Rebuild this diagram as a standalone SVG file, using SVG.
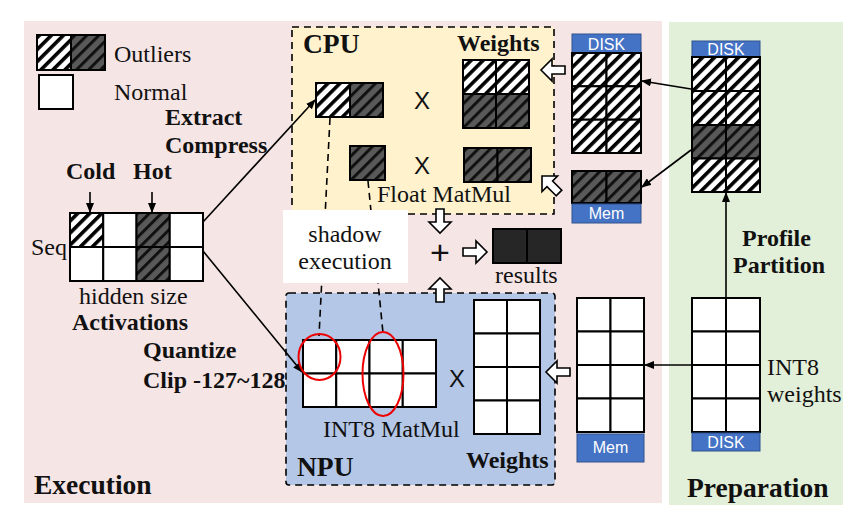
<svg xmlns="http://www.w3.org/2000/svg" width="858" height="521" viewBox="0 0 858 521">
<style>
.s{font-family:"Liberation Serif","Times New Roman",serif;font-size:24px;fill:#111}
.b{font-family:"Liberation Serif","Times New Roman",serif;font-size:24px;font-weight:bold;fill:#111}
.h{font-family:"Liberation Serif","Times New Roman",serif;font-size:27.5px;font-weight:bold;fill:#111}
.x{font-family:"Liberation Sans",Arial,sans-serif;font-size:24px;fill:#111;text-anchor:middle}
.lb{font-family:"Liberation Sans",Arial,sans-serif;font-size:16px;fill:#fff;text-anchor:middle}
.c{stroke:#000;stroke-width:2}
.hw{fill:url(#phw)}
.dk{fill:url(#pdk)}
.wt{fill:#fff}
.blue{fill:#4472c4;stroke:#2f528f;stroke-width:1}
.ln{stroke:#000;stroke-width:1.6;fill:none}
.dash{stroke:#000;stroke-width:1.6;fill:none;stroke-dasharray:7,5}
.ha{fill:#fff;stroke:#000;stroke-width:1.6;stroke-linejoin:miter}
</style>
<defs>
<pattern id="phw" width="8.5" height="8.5" patternUnits="userSpaceOnUse" patternTransform="rotate(45)">
<rect width="8.5" height="8.5" fill="#fff"/><rect width="3.6" height="8.5" fill="#000"/>
</pattern>
<pattern id="pdk" width="8.5" height="8.5" patternUnits="userSpaceOnUse" patternTransform="rotate(45)">
<rect width="8.5" height="8.5" fill="#595959"/><rect width="3" height="8.5" fill="#111"/>
</pattern>
<marker id="ah" markerWidth="10" markerHeight="8" refX="9" refY="4" orient="auto" markerUnits="userSpaceOnUse">
<path d="M0,0 L10,4 L0,8 Z" fill="#000"/>
</marker>
<path id="harrow" d="M-24,-4 H-11 V-11 L0,0 L-11,11 V4 H-24 Z"/>
</defs>

<!-- backgrounds -->
<rect x="24" y="21" width="638" height="482" fill="#f6e5e5"/>
<rect x="669" y="22" width="174" height="483" fill="#e2efd9"/>

<g id="cpu-box">
<rect x="292" y="27" width="262" height="187" fill="#fff2cc" stroke="#000" stroke-width="1.6" stroke-dasharray="7,5"/>
<text class="h" x="303" y="53">CPU</text>
<text class="b" x="457" y="51" font-size="23">Weights</text>
<text class="s" x="377" y="202">Float MatMul</text>
</g>

<g id="npu-box">
<rect x="286" y="293" width="269" height="192" rx="3" fill="#b4c7e7" stroke="#000" stroke-width="1.6" stroke-dasharray="7,5"/>
<text class="h" x="297" y="476">NPU</text>
<text class="b" x="466" y="468" font-size="23">Weights</text>
<text class="s" x="323" y="437">INT8 MatMul</text>
</g>

<g id="connectors">
<line class="dash" x1="330" y1="118" x2="319" y2="336"/>
<line class="dash" x1="368" y1="181" x2="383" y2="333"/>
<line class="ln" x1="203" y1="222" x2="315" y2="100" marker-end="url(#ah)"/>
<line class="ln" x1="203" y1="251" x2="302" y2="372" marker-end="url(#ah)"/>
<line class="ln" x1="90" y1="192" x2="90" y2="212" marker-end="url(#ah)"/>
<line class="ln" x1="152" y1="192" x2="152" y2="212" marker-end="url(#ah)"/>
<line class="ln" x1="691" y1="89" x2="642" y2="81" marker-end="url(#ah)"/>
<line class="ln" x1="691" y1="150" x2="642" y2="187" marker-end="url(#ah)"/>
<line class="ln" x1="726" y1="297" x2="726" y2="193" marker-end="url(#ah)"/>
<line class="ln" x1="692" y1="365" x2="645" y2="365" marker-end="url(#ah)"/>
<use href="#harrow" class="ha" transform="translate(541,70) rotate(180)"/>
<use href="#harrow" class="ha" transform="translate(542,176) rotate(225)"/>
<use href="#harrow" class="ha" transform="translate(440,233) rotate(90)"/>
<use href="#harrow" class="ha" transform="translate(440,278) rotate(-90)"/>
<use href="#harrow" class="ha" transform="translate(487,252)"/>
<use href="#harrow" class="ha" transform="translate(546,372) rotate(180)"/>
</g>

<g id="legend">
<rect class="c hw" x="37" y="35" width="34" height="35"/>
<rect class="c dk" x="71" y="35" width="34" height="35"/>
<rect class="c wt" x="39" y="75" width="34" height="34"/>
<text class="s" x="114" y="62">Outliers</text>
<text class="s" x="114" y="100">Normal</text>
</g>

<g id="labels-left">
<text class="b" x="165" y="125">Extract</text>
<text class="b" x="165" y="153">Compress</text>
<text class="b" x="66" y="179">Cold</text>
<text class="b" x="133" y="179">Hot</text>
<text class="b" x="143" y="358">Quantize</text>
<text class="b" x="143" y="388">Clip -127~128</text>
<text class="h" x="34" y="494">Execution</text>
</g>

<g id="activations">
<rect class="c hw" x="70" y="213" width="33.25" height="34"/>
<rect class="c wt" x="103.25" y="213" width="33.25" height="34"/>
<rect class="c dk" x="136.5" y="213" width="33.25" height="34"/>
<rect class="c wt" x="169.75" y="213" width="33.25" height="34"/>
<rect class="c wt" x="70" y="247" width="33.25" height="34"/>
<rect class="c wt" x="103.25" y="247" width="33.25" height="34"/>
<rect class="c dk" x="136.5" y="247" width="33.25" height="34"/>
<rect class="c wt" x="169.75" y="247" width="33.25" height="34"/>
<text class="s" x="31" y="255">Seq</text>
<text class="s" x="79" y="304">hidden size</text>
<text class="b" x="72" y="330">Activations</text>
</g>

<g id="cpu-activation">
<rect class="c hw" x="316" y="83" width="34" height="34"/>
<rect class="c dk" x="350" y="83" width="33" height="34"/>
<text class="x" x="422" y="109">X</text>
</g>

<g id="cpu-weights">
<rect class="c hw" x="463" y="60" width="33" height="34"/>
<rect class="c hw" x="496" y="60" width="33" height="34"/>
<rect class="c dk" x="463" y="94" width="33" height="34"/>
<rect class="c dk" x="496" y="94" width="33" height="34"/>
</g>

<g id="cpu-activation-hot">
<rect class="c dk" x="350" y="146" width="35" height="34"/>
<text class="x" x="422" y="174">X</text>
</g>

<g id="cpu-weights-hot">
<rect class="c dk" x="464" y="148" width="33.5" height="34"/>
<rect class="c dk" x="497.5" y="148" width="33.5" height="34"/>
</g>

<g id="shadow-execution">
<rect x="283" y="210" width="125" height="73" fill="#fff"/>
<text class="s" x="345" y="242" text-anchor="middle">shadow</text>
<text class="s" x="345" y="269" text-anchor="middle">execution</text>
</g>

<g id="sum">
<text x="440" y="264" font-family="Liberation Sans,Arial,sans-serif" font-size="34" text-anchor="middle" fill="#111">+</text>
</g>

<g id="results">
<rect class="c" x="493" y="229" width="34" height="34" fill="#262626"/>
<rect class="c" x="527" y="229" width="34" height="34" fill="#262626"/>
<text class="s" x="495" y="283">results</text>
</g>

<g id="npu-activation">
<rect class="c wt" x="303" y="340" width="33.25" height="33.5"/>
<rect class="c wt" x="336.25" y="340" width="33.25" height="33.5"/>
<rect class="c wt" x="369.5" y="340" width="33.25" height="33.5"/>
<rect class="c wt" x="402.75" y="340" width="33.25" height="33.5"/>
<rect class="c wt" x="303" y="373.5" width="33.25" height="33.5"/>
<rect class="c wt" x="336.25" y="373.5" width="33.25" height="33.5"/>
<rect class="c wt" x="369.5" y="373.5" width="33.25" height="33.5"/>
<rect class="c wt" x="402.75" y="373.5" width="33.25" height="33.5"/>
<ellipse cx="319.5" cy="357" rx="21" ry="23" fill="none" stroke="#e00" stroke-width="2"/>
<ellipse cx="383" cy="374" rx="20.5" ry="42" fill="none" stroke="#e00" stroke-width="2"/>
<text class="x" x="457" y="387">X</text>
</g>

<g id="npu-weights">
<rect class="c wt" x="474" y="300" width="33" height="33.5"/>
<rect class="c wt" x="507" y="300" width="33" height="33.5"/>
<rect class="c wt" x="474" y="333.5" width="33" height="33.5"/>
<rect class="c wt" x="507" y="333.5" width="33" height="33.5"/>
<rect class="c wt" x="474" y="367" width="33" height="33.5"/>
<rect class="c wt" x="507" y="367" width="33" height="33.5"/>
<rect class="c wt" x="474" y="400.5" width="33" height="33.5"/>
<rect class="c wt" x="507" y="400.5" width="33" height="33.5"/>
</g>

<g id="outlier-weights-disk">
<rect class="blue" x="572" y="34" width="69" height="19"/>
<text class="lb" x="606.5" y="49.5">DISK</text>
<rect class="c hw" x="572" y="53" width="34.5" height="33.3"/>
<rect class="c hw" x="606.5" y="53" width="34.5" height="33.3"/>
<rect class="c hw" x="572" y="86.3" width="34.5" height="33.4"/>
<rect class="c hw" x="606.5" y="86.3" width="34.5" height="33.4"/>
<rect class="c hw" x="572" y="119.7" width="34.5" height="33.3"/>
<rect class="c hw" x="606.5" y="119.7" width="34.5" height="33.3"/>
</g>

<g id="hot-weights-mem">
<rect class="c dk" x="572" y="171" width="34.5" height="32"/>
<rect class="c dk" x="606.5" y="171" width="34.5" height="32"/>
<rect class="blue" x="572" y="204" width="69" height="19"/>
<text class="lb" x="606.5" y="219" font-size="14.5">Mem</text>
</g>

<g id="int8-weights-mem">
<rect class="c wt" x="577" y="298" width="33.5" height="33.5"/>
<rect class="c wt" x="610.5" y="298" width="33.5" height="33.5"/>
<rect class="c wt" x="577" y="331.5" width="33.5" height="33.5"/>
<rect class="c wt" x="610.5" y="331.5" width="33.5" height="33.5"/>
<rect class="c wt" x="577" y="365" width="33.5" height="33.5"/>
<rect class="c wt" x="610.5" y="365" width="33.5" height="33.5"/>
<rect class="c wt" x="577" y="398.5" width="33.5" height="33.5"/>
<rect class="c wt" x="610.5" y="398.5" width="33.5" height="33.5"/>
<rect class="blue" x="577" y="434" width="67" height="28"/>
<text class="lb" x="610.5" y="453" font-size="14.5">Mem</text>
</g>

<g id="profiled-weights-disk">
<rect class="blue" x="692" y="41" width="68" height="16"/>
<text class="lb" x="726" y="55">DISK</text>
<rect class="c hw" x="692" y="57" width="34" height="34"/>
<rect class="c hw" x="726" y="57" width="34" height="34"/>
<rect class="c hw" x="692" y="91" width="34" height="34"/>
<rect class="c hw" x="726" y="91" width="34" height="34"/>
<rect class="c dk" x="692" y="125" width="34" height="33.5"/>
<rect class="c dk" x="726" y="125" width="34" height="33.5"/>
<rect class="c hw" x="692" y="158.5" width="34" height="33.5"/>
<rect class="c hw" x="726" y="158.5" width="34" height="33.5"/>
</g>

<g id="int8-weights-disk">
<rect class="c wt" x="692" y="298" width="34" height="33.5"/>
<rect class="c wt" x="726" y="298" width="34" height="33.5"/>
<rect class="c wt" x="692" y="331.5" width="34" height="33.5"/>
<rect class="c wt" x="726" y="331.5" width="34" height="33.5"/>
<rect class="c wt" x="692" y="365" width="34" height="33.5"/>
<rect class="c wt" x="726" y="365" width="34" height="33.5"/>
<rect class="c wt" x="692" y="398.5" width="34" height="33.5"/>
<rect class="c wt" x="726" y="398.5" width="34" height="33.5"/>
<rect class="blue" x="692" y="433" width="68" height="18"/>
<text class="lb" x="726" y="448">DISK</text>
</g>

<g id="labels-right">
<text class="b" x="742" y="246">Profile</text>
<text class="b" x="733" y="273">Partition</text>
<text class="s" x="767" y="375">INT8</text>
<text class="s" x="767" y="402">weights</text>
<text class="h" x="687" y="497">Preparation</text>
</g>
</svg>
